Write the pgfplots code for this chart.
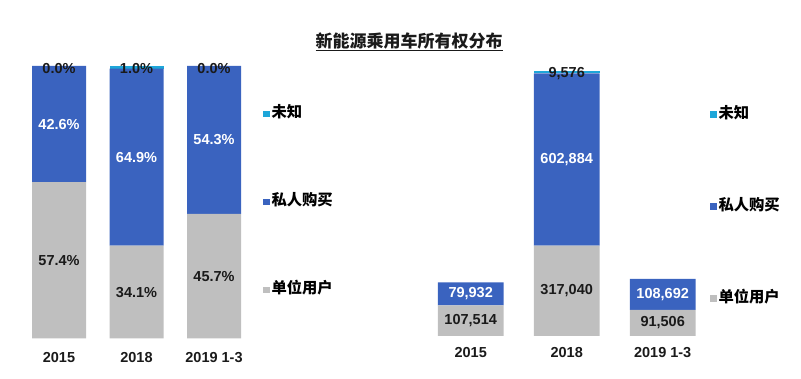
\documentclass[border=0pt]{standalone}
\usepackage{fontspec}
\setmainfont{Liberation Sans}
\newfontfamily\cjk{Noto Sans CJK SC}
\usepackage{pgfplots}
\pgfplotsset{compat=1.18}
\definecolor{cgray}{HTML}{BFBFBF}
\definecolor{cblue}{HTML}{3A63BF}
\definecolor{ccyan}{HTML}{1EA6D9}
\definecolor{ctext}{HTML}{1A1A1A}
\pgfplotsset{
  common/.style={
    scale only axis, anchor=south west,
    xmin=-0.5, xmax=2.5, ymin=0,
    axis line style={draw=none}, tick style={draw=none},
    ytick=\empty, xtick={0,1,2}, xticklabels={2015,2018,2019 1-3},
    xticklabel style={font=\bfseries\fontsize{14.5}{14.5}\selectfont, text=ctext, yshift=-8pt},
  },
  bars/.style={common, ybar stacked,
    legend image code/.code={\fill[##1] (0pt,-3.3pt) rectangle (6.6pt,3.3pt);},
    reverse legend, legend cell align=left,
  },
  labels/.style={common, xtick=\empty, clip=false,
    nodes near coords style={font=\bfseries\fontsize{14.5}{14.5}\selectfont, anchor=center},
  },
  lab/.style={draw=none, mark=none, nodes near coords, point meta=explicit symbolic,
    nodes near coords style={text=#1}},
}
\begin{document}
\begin{tikzpicture}
\path (0pt,0pt) rectangle (801pt,379pt);
% ---------- left: shares (%)
\begin{axis}[bars,
  at={(20.25pt,40.5pt)}, width=232.5pt, height=272.5pt, ymax=100,
  bar width=54pt,
  xticklabel style={yshift=-2.5pt},
  legend style={at={(axis description cs:1,0.501)}, anchor=west, xshift=10pt, draw=none, fill=none,
    inner sep=0pt, row sep=72pt, font=\cjk\bfseries\fontsize{15.3}{15.3}\selectfont,
    nodes={inner sep=2pt, text height=10pt, text depth=2pt}},
]
\addplot[fill=cgray, draw=none] coordinates {(0,57.4) (1,34.1) (2,45.7)};
\addplot[fill=cblue, draw=none] coordinates {(0,42.6) (1,64.9) (2,54.3)};
\addplot[fill=ccyan, draw=none] coordinates {(0,0.0) (1,1.0) (2,0.0)};
\legend{单位用户,私人购买,未知}
\end{axis}
\begin{axis}[labels,
  at={(20.25pt,40.5pt)}, width=232.5pt, height=272.5pt, ymax=100]
\addplot[lab=ctext] coordinates {(0,28.7)[57.4\%] (1,17.05)[34.1\%] (2,22.85)[45.7\%]};
\addplot[lab=white] coordinates {(0,78.7)[42.6\%] (1,66.55)[64.9\%] (2,72.85)[54.3\%]};
\addplot[lab=ctext] coordinates {(0,99.1)[0.0\%] (1,99.1)[1.0\%] (2,99.1)[0.0\%]};
\end{axis}
% ---------- right: counts
\begin{axis}[bars,
  at={(422.7pt,43pt)}, width=288pt, height=265.3pt, ymax=929500,
  bar width=65.6pt,
  legend style={at={(axis description cs:1,0.488)}, anchor=west, xshift=-1pt, draw=none, fill=none,
    inner sep=0pt, row sep=76pt, font=\cjk\bfseries\fontsize{15.3}{15.3}\selectfont,
    nodes={inner sep=2pt, text height=10pt, text depth=2pt}},
]
\addplot[fill=cgray, draw=none] coordinates {(0,107514) (1,317040) (2,91506)};
\addplot[fill=cblue, draw=none] coordinates {(0,79932) (1,602884) (2,108692)};
\addplot[fill=ccyan, draw=none] coordinates {(0,0) (1,9576) (2,0)};
\legend{单位用户,私人购买,未知}
\end{axis}
\begin{axis}[labels,
  at={(422.7pt,43pt)}, width=288pt, height=265.3pt, ymax=929500]
\addplot[lab=ctext] coordinates {(0,53757)[107,514] (1,158520)[317,040] (2,45753)[91,506]};
\addplot[lab=white] coordinates {(0,147480)[79,932] (1,618482)[602,884] (2,145852)[108,692]};
\addplot[lab=ctext] coordinates {(1,921000)[9,576]};
\end{axis}
\node[font=\cjk\bfseries\fontsize{17}{17}\selectfont, text=ctext] at (409pt,337pt) {\underline{新能源乘用车所有权分布}};
\end{tikzpicture}
\end{document}
